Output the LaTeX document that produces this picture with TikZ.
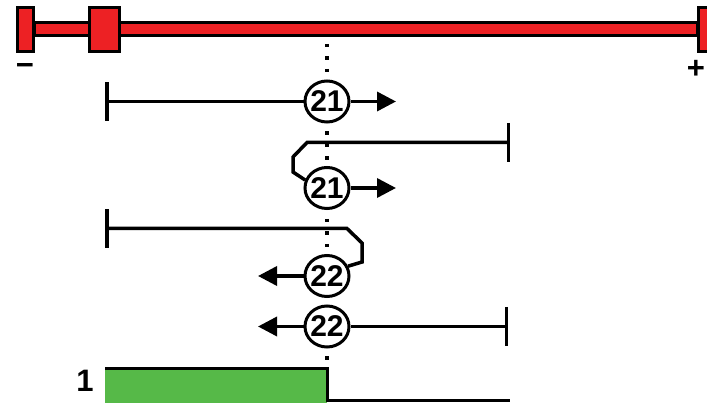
\documentclass[tikz,border=0pt]{standalone}
\usepackage{fontspec}
\setmainfont{Liberation Sans}
\usepackage{xcolor}
\usetikzlibrary{arrows.meta,shapes.geometric}

\definecolor{barred}{RGB}{237,33,36}
\definecolor{okgreen}{RGB}{86,185,72}

\begin{document}
\begin{tikzpicture}[
  x=1pt, y=-1pt,
  every node/.style={font=\fontsize{31}{31}\selectfont\bfseries},
  num/.style={draw, ellipse, fill=white, line width=3pt, minimum width=44pt, minimum height=41pt, inner sep=-1.5pt,
    font=\fontsize{30}{30}\selectfont\bfseries},
  redbox/.style={draw=black, fill=barred, line width=3.5pt},
  arrow/.style={line width=3.5pt, -{Triangle[length=19pt,width=19pt]}},
  stop/.style={line width=3.5pt, {Bar[width=39pt]}-},
  signal/.style={line width=3pt},
]

\useasboundingbox (0,0) rectangle (707,403);

% slide bar with stops
\draw[redbox] (34,22.5) rectangle (698,35.5);
\draw[redbox] (17.5,7.5) rectangle (33.5,51.5);
\draw[redbox] (89.5,7.5) rectangle (119.5,51.5);
\draw[redbox] (698.5,7.5) rectangle (730,51.5);

\node (minus) at (25,70) {−};
\node (plus) at (696,69) {+};

% switching point
\draw[line width=3.5pt, dash pattern=on 3.5pt off 9pt] (327,44) -- (327,362);

\node[num] (c1) at (327,101.5) {21};
\node[num] (c2) at (327,188) {21};
\node[num] (c3) at (327,276) {22};
\node[num] (c4) at (327,326.5) {22};

\coordinate (s1) at (105,101.5);
\coordinate (t1) at (396,101.5);
\coordinate (s2) at (510,142.5);
\coordinate (t2) at (396,188);
\coordinate (s3) at (105,228.5);
\coordinate (t3) at (258,276);
\coordinate (s4) at (508,326.5);
\coordinate (t4) at (258,326.5);

\draw[stop] (s1) -- (c1);
\draw[arrow] (c1) -- (t1);

\draw[stop] (s2) -- (307,142.5) -- (293,157) -- (293,172) -- (c2.160);
\draw[arrow] (c2) -- (t2);

\draw[stop] (s3) -- (347,228.5) -- (362,243) -- (362,262) -- (c3.25);
\draw[arrow] (c3) -- (t3);

\draw[stop] (s4) -- (c4);
\draw[arrow] (c4) -- (t4);

% output signal
\node (lvl) at (85,381) {1};
\fill[okgreen] (105,369) rectangle (327,403);
\draw[signal] (105,368.5) -- (327,368.5) -- (327,400.5) -- (510,400.5);

\end{tikzpicture}
\end{document}
